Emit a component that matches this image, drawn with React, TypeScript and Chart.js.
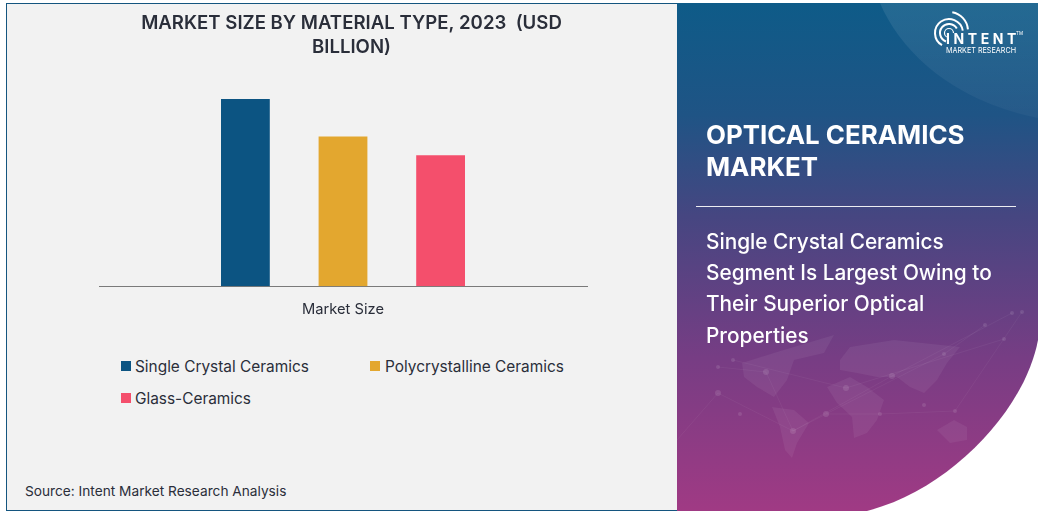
import React, { useEffect, useRef, useState } from "react";
import { Chart, registerables } from "chart.js";

Chart.register(...registerables);

const categories = ["Market Size"];
const seriesNames = ["Single Crystal Ceramics", "Polycrystalline Ceramics", "Glass-Ceramics"];
const seriesValues = [[50], [40], [35]];
const seriesColors = ["#0c5482", "#e3a72f", "#f44f6c"];
const titleLines = ["MARKET SIZE BY MATERIAL TYPE, 2023  (USD", "BILLION)"];
const panelHeading = ["OPTICAL CERAMICS", "MARKET"];
const panelBody = ["Single Crystal Ceramics", "Segment Is Largest Owing to", "Their Superior Optical", "Properties"];
const sourceText = "Source: Intent Market Research Analysis";

const FONT = "Inter, 'Open Sans', sans-serif";

const continents = [
  "742,363 777,352 834,335 824,353 794,360 787,380 774,397 757,387 744,377",
  "772,407 794,410 809,423 797,443 792,458 785,450 780,427",
  "827,387 850,377 867,387 884,400 877,420 867,433 854,438 852,417 837,403",
  "840,360 850,347 894,340 960,347 947,363 937,380 924,393 910,387 897,377 877,377 857,373 840,370",
  "937,430 954,420 967,427 967,440 950,443",
];
const nodes = [
  [718, 367, 2], [733, 360, 2], [718, 393, 3], [766, 372, 3], [740, 414, 2], [793, 431, 3],
  [826, 414, 3], [846, 388, 3], [892, 376, 3], [880, 414, 2], [955, 411, 2], [944, 354, 2],
  [1004, 339, 2], [1012, 313, 2], [985, 325, 2], [1022, 312, 2], [924, 405, 2],
];
const links = [
  [718, 393, 793, 431], [733, 360, 846, 388], [793, 431, 892, 376], [826, 414, 944, 354],
  [846, 388, 1004, 339], [892, 376, 1012, 313], [880, 414, 955, 411], [718, 367, 766, 372],
  [677, 440, 718, 393], [793, 431, 826, 414], [944, 354, 985, 325], [955, 411, 1022, 312],
  [766, 372, 793, 431], [826, 414, 880, 414],
];

function arc(cx: number, cy: number, r: number, a0: number, a1: number) {
  const p = (a: number) => `${cx + r * Math.cos((a * Math.PI) / 180)},${cy + r * Math.sin((a * Math.PI) / 180)}`;
  const large = Math.abs(a1 - a0) > 180 ? 1 : 0;
  return `M${p(a0)} A${r},${r} 0 ${large} 1 ${p(a1)}`;
}

export default function App() {
  const ref = useRef<HTMLCanvasElement | null>(null);
  const [legend, setLegend] = useState<{ text: string; color: string }[]>([]);

  useEffect(() => {
    if (!ref.current) return;
    const chart = new Chart(ref.current, {
      type: "bar",
      data: {
        labels: categories,
        datasets: seriesNames.map((name, i) => ({
          label: name,
          data: seriesValues[i],
          backgroundColor: seriesColors[i],
          categoryPercentage: 0.6,
          barPercentage: 0.5,
        })),
      },
      options: {
        responsive: false,
        animation: false,
        layout: { padding: { left: 73, right: 73, top: 0, bottom: 4 } },
        plugins: {
          legend: { display: false },
          tooltip: { enabled: false },
          title: {
            display: true,
            text: titleLines,
            color: "#2a2e3a",
            font: { family: FONT, size: 18.6, weight: 600, lineHeight: 1.29 },
            padding: { top: 8, bottom: 40 },
          },
        },
        scales: {
          x: {
            grid: { display: false, drawTicks: false },
            border: { color: "#7a7a7a", width: 1 },
            ticks: { color: "#2a2e3a", font: { family: FONT, size: 14.7 }, padding: 14 },
          },
          y: {
            display: true,
            position: "right",
            min: 0,
            max: 50,
            grid: { display: false, drawTicks: false },
            border: { display: false },
            ticks: { display: false },
            afterFit: (scale: any) => {
              scale.width = 17;
            },
          },
        },
      },
    });
    setLegend(chart.data.datasets.map((d) => ({ text: String(d.label), color: String(d.backgroundColor) })));
    return () => chart.destroy();
  }, []);

  const legendPos = [
    { left: 121, top: 357 },
    { left: 370, top: 357 },
    { left: 121, top: 389 },
  ];

  return (
    <div style={{ position: "absolute", left: 0, top: 0, width: 1043, height: 513, background: "#fff", overflow: "hidden", fontFamily: FONT }}>
      <div style={{ position: "absolute", left: 6, top: 3, width: 672, height: 508, boxSizing: "border-box", background: "#f2f2f2", borderLeft: "1.5px solid #14557f", borderTop: "1.5px solid #14557f", borderBottom: "1.5px solid #14557f" }} />
      <canvas ref={ref} width={651} height={333} style={{ position: "absolute", left: 26, top: 3, width: 651, height: 333 }} />
      {legend.map((item, i) => (
        <div key={item.text} style={{ position: "absolute", left: legendPos[i].left, top: legendPos[i].top, height: 18, display: "flex", alignItems: "center", whiteSpace: "nowrap", color: "#2a2e3a", fontSize: 15.4 }}>
          <span style={{ width: 10, height: 10, background: item.color, marginRight: i === 1 ? 5 : 4, display: "inline-block" }} />
          {item.text}
        </div>
      ))}
      <div style={{ position: "absolute", left: 25, top: 483, color: "#2a2e3a", fontSize: 13.7, whiteSpace: "nowrap" }}>{sourceText}</div>

      <svg width={1043} height={513} style={{ position: "absolute", left: 0, top: 0 }}>
        <defs>
          <linearGradient id="pg" x1="0" y1="3" x2="0" y2="511" gradientUnits="userSpaceOnUse">
            <stop offset="0" stopColor="#0e5b88" />
            <stop offset="0.22" stopColor="#1f5485" />
            <stop offset="0.42" stopColor="#464681" />
            <stop offset="0.7" stopColor="#773d84" />
            <stop offset="1" stopColor="#a03a84" />
          </linearGradient>
          <linearGradient id="sheen" x1="0" y1="3" x2="0" y2="125" gradientUnits="userSpaceOnUse">
            <stop offset="0" stopColor="#ffffff" stopOpacity="0.09" />
            <stop offset="1" stopColor="#ffffff" stopOpacity="0.03" />
          </linearGradient>
          <clipPath id="pc">
            <path d="M677,3 H1038 V340 C1025,410 950,490 867,511 H677 Z" />
          </clipPath>
        </defs>
        <path d="M677,3 H1038 V340 C1025,410 950,490 867,511 H677 Z" fill="url(#pg)" />
        <g clipPath="url(#pc)">
          <path d="M880,3 C900,50 950,100 1038,118 V3 Z" fill="url(#sheen)" />
          {continents.map((pts, i) => (
            <polygon key={i} points={pts} fill="#ffffff" opacity="0.06" />
          ))}
          {links.map((l, i) => (
            <line key={i} x1={l[0]} y1={l[1]} x2={l[2]} y2={l[3]} stroke="#ffffff" strokeOpacity="0.07" strokeWidth="0.7" />
          ))}
          {nodes.map((n, i) => (
            <circle key={i} cx={n[0]} cy={n[1]} r={n[2]} fill="#ffffff" opacity="0.11" />
          ))}
        </g>
        <g fill="none" stroke="#ffffff" strokeLinecap="butt">
          <path d={arc(949, 33, 4.5, 90, 360)} strokeWidth="1.2" />
          <path d={arc(949, 33, 9, 110, 330)} strokeWidth="2" />
          <path d={arc(949, 33, 14, 120, 350)} strokeWidth="2" />
          <path d={arc(949, 31, 19, -80, -5)} strokeWidth="2" />
        </g>
        <text x="946" y="44" fill="#ffffff" fontSize="14" fontWeight="700" fontFamily={FONT} letterSpacing="3.6">INTENT</text>
        <text x="1016" y="35" fill="#ffffff" fontSize="4.5" fontFamily={FONT}>TM</text>
        <text x="946" y="53" fill="#ffffff" fontSize="8" fontFamily={FONT} textLength="70" lengthAdjust="spacingAndGlyphs">MARKET RESEARCH</text>
        {panelHeading.map((t, i) => (
          <text key={t} x="706" y={144 + i * 32} fill="#ffffff" fontSize="25.9" fontWeight="700" fontFamily={FONT}>{t}</text>
        ))}
        <line x1="696" y1="206.5" x2="1016" y2="206.5" stroke="#ffffff" strokeWidth="1" opacity="0.9" />
        {panelBody.map((t, i) => (
          <text key={t} x="706" y={248.7 + i * 31.3} fill="#ffffff" fontSize="20.8" fontWeight="500" fontFamily={FONT}>{t}</text>
        ))}
      </svg>
    </div>
  );
}
